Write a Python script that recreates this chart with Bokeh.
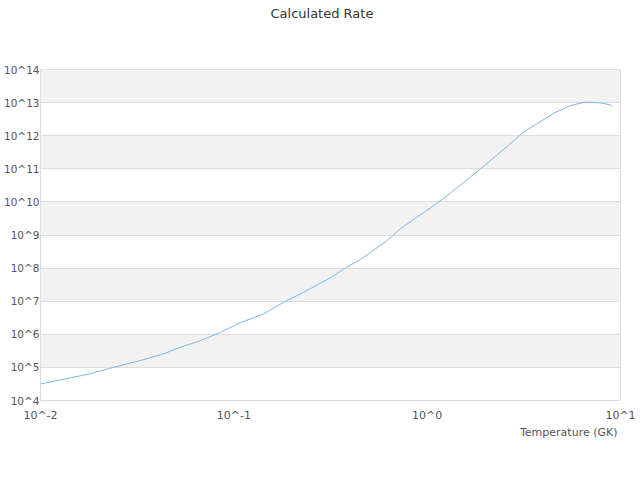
from bokeh.plotting import figure
from bokeh.models import Range1d, FixedTicker, CustomJSTickFormatter, Title
from bokeh.embed import file_html
from bokeh.resources import INLINE

# ---- data ----
temperature = [0.01, 0.0182, 0.023, 0.0329, 0.0434, 0.053, 0.0673, 0.0853, 0.108,
               0.143, 0.181, 0.23, 0.316, 0.378, 0.452, 0.531, 0.621, 0.728, 0.887,
               1.04, 1.27, 1.89, 2.39, 3.16, 4.52, 5.51, 6.46, 7.28, 8.2, 9.06]
rate = [3.16e4, 6.46e4, 9.5e4, 1.62e5, 2.57e5, 4.07e5, 6.46e5, 1.15e6, 2.24e6,
        4.17e6, 9.3e6, 1.86e7, 5.1e7, 1.02e8, 1.82e8, 3.55e8, 6.8e8, 1.55e9, 3.47e9,
        6.6e9, 1.55e10, 1.0e11, 3.16e11, 1.29e12, 4.8e12, 8.1e12, 1.02e13, 1.02e13,
        9.5e12, 8.1e12]

x_ticks = [0.01, 0.1, 1, 10]
x_tick_labels = ["10^-2", "10^-1", "10^0", "10^1"]
y_ticks = [1e4, 1e5, 1e6, 1e7, 1e8, 1e9, 1e10, 1e11, 1e12, 1e13, 1e14]
y_tick_labels = ["10^4", "10^5", "10^6", "10^7", "10^8", "10^9", "10^10",
                 "10^11", "10^12", "10^13", "10^14"]

title_text = "Calculated Rate"
x_title = "Temperature (GK)"

FONT = "DejaVu Sans"
TICK_COLOR = "#555555"
TICK_JS = "return '10^' + Math.round(Math.log10(tick));"

p = figure(width=640, height=480, x_axis_type="log", y_axis_type="log",
           x_range=Range1d(x_ticks[0], x_ticks[-1]),
           y_range=Range1d(y_ticks[0], y_ticks[-1]),
           output_backend="svg", toolbar_location=None,
           min_border_left=40, min_border_right=20,
           min_border_top=69, min_border_bottom=80)
p.background_fill_color = "white"
p.border_fill_color = "white"
p.outline_line_color = "#d9d9d9"
p.outline_line_width = 1

# chart title (outermost panel above) + spacer between it and the frame
p.title.text = title_text
p.title.align = "left"
p.title.offset = 230
p.title.standoff = 0
p.title.vertical_align = "top"
p.title.text_font = FONT
p.title.text_font_size = "13px"
p.title.text_font_style = "normal"
p.title.text_color = "#333333"
p.add_layout(Title(text=" ", text_font_size="1px", standoff=44), "above")

# grid with alternating bands
p.xgrid.visible = False
p.ygrid.ticker = FixedTicker(ticks=y_ticks, minor_ticks=[])
p.ygrid.grid_line_color = "#dddddd"
p.ygrid.grid_line_width = 1
p.ygrid.band_fill_color = "#f2f2f2"
p.ygrid.band_fill_alpha = 1.0

# x axis
xa = p.xaxis[0]
xa.ticker = FixedTicker(ticks=x_ticks, minor_ticks=[])
xa.major_label_overrides = dict(zip(x_ticks, x_tick_labels))
xa.formatter = CustomJSTickFormatter(code=TICK_JS)
xa.axis_line_color = None
xa.major_tick_line_color = None
xa.minor_tick_line_color = None
xa.major_tick_in = 0
xa.major_tick_out = 0
xa.minor_tick_out = 0
xa.major_label_standoff = 8
xa.major_label_text_font = FONT
xa.major_label_text_font_size = "11px"
xa.major_label_text_color = TICK_COLOR

# x axis title, right-aligned under the frame
p.add_layout(Title(text=x_title, align="right", offset=3, standoff=2,
                   vertical_align="top", text_font=FONT, text_font_size="11px",
                   text_font_style="normal", text_color=TICK_COLOR), "below")

# y axis
ya = p.yaxis[0]
ya.ticker = FixedTicker(ticks=y_ticks, minor_ticks=[])
ya.major_label_overrides = dict(zip(y_ticks, y_tick_labels))
ya.formatter = CustomJSTickFormatter(code=TICK_JS)
ya.axis_line_color = None
ya.major_tick_line_color = None
ya.minor_tick_line_color = None
ya.major_tick_in = 0
ya.major_tick_out = 0
ya.minor_tick_out = 0
ya.major_label_standoff = 1
ya.major_label_text_font = FONT
ya.major_label_text_font_size = "10.5px"
ya.major_label_text_color = TICK_COLOR

# series
p.line(temperature, rate, line_color="#7cb5ec", line_width=1)

open("out.html", "w").write(file_html(p, INLINE))
